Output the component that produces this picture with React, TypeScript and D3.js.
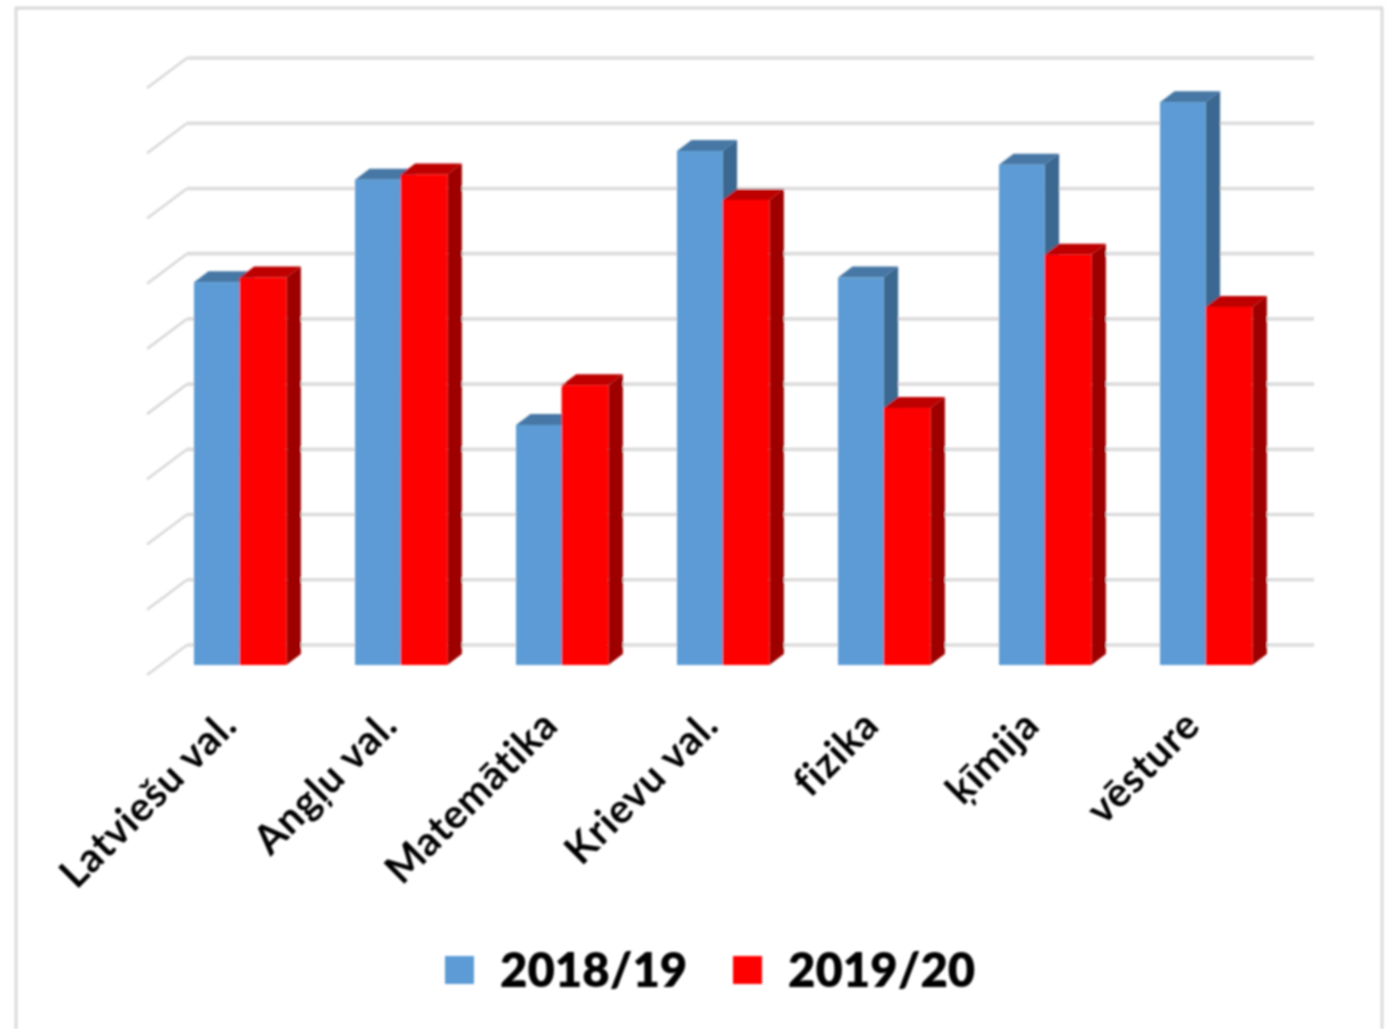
import React from "react";
import * as d3 from "d3";

const categories = ["Latviešu val.", "Angļu val.", "Matemātika", "Krievu val.", "fizika", "ķīmija", "vēsture"];
const values1819 = [58.7, 74.4, 36.8, 78.8, 59.4, 76.7, 86.3];
const values1920 = [59.4, 75.2, 42.9, 71.3, 39.4, 62.9, 54.9];
const gridValues = [0, 10, 20, 30, 40, 50, 60, 70, 80, 90];
const seriesNames = ["2018/19", "2019/20"];

const W = 1394, H = 1029;
const yFront = d3.scaleLinear().domain([0, 90]).range([665, 78]);
const yGrid = d3.scaleLinear().domain([0, 90]).range([645, 58]);
const xGroups = d3.scaleBand<string>().domain(categories).range([194, 194 + 7 * 161]).padding(0).align(0);
const dx = 14.5, dy = 11;

const palette = [
  { front: "#5B9BD5", top: "#4677A4", side: "#3A6790" },
  { front: "#FF0000", top: "#BE0000", side: "#9E0000" },
];

function Bar({ x, w, v, c }: { x: number; w: number; v: number; c: typeof palette[0] }) {
  const t = yFront(v), b = yFront(0), r = x + w;
  return (
    <g>
      <polygon fill={c.side} points={`${r},${t} ${r + dx},${t - dy} ${r + dx},${b - dy} ${r},${b}`} />
      <polygon fill={c.top} points={`${x},${t} ${x + dx},${t - dy} ${r + dx},${t - dy} ${r},${t}`} />
      <rect x={x} y={t} width={w} height={b - t} fill={c.front} />
    </g>
  );
}

export default function App() {
  const bwBlue = 45.6, bwRed = 46.8;
  return (
    <svg width={W} height={H} viewBox={`0 0 ${W} ${H}`} style={{ position: "absolute", left: 0, top: 0, display: "block", background: "#fff" }}>
      <defs>
        <filter id="soft" x="-5%" y="-5%" width="110%" height="110%">
          <feGaussianBlur stdDeviation="0.85" />
        </filter>
      </defs>
      <g filter="url(#soft)">
        <path d="M16,1029 V8 H1382 V1029" fill="none" stroke="#d8d8d8" strokeWidth={2.8} />
        {gridValues.map((g) => (
          <g key={g}>
            <line x1={187} x2={1314} y1={yGrid(g)} y2={yGrid(g)} stroke="#dcdcdc" strokeWidth={3.6} />
            <line x1={147} x2={187} y1={yGrid(g) + 30} y2={yGrid(g)} stroke="#d8d8d8" strokeWidth={2.6} />
          </g>
        ))}
        {categories.map((cat, i) => {
          const x = xGroups(cat)!;
          return (
            <g key={cat}>
              <Bar x={x} w={bwBlue} v={values1819[i]} c={palette[0]} />
              <Bar x={x + bwBlue} w={bwRed} v={values1920[i]} c={palette[1]} />
              <text
                transform={`translate(${x + 22.5 - i * 0.5},${705}) rotate(-45)`}
                textAnchor="end"
                dominantBaseline="hanging"
                fontFamily="Lato, 'Open Sans', sans-serif"
                fontWeight={700}
                fontSize={40.5}
                letterSpacing={0.75}
                fill="#000"
              >
                {cat}
              </text>
            </g>
          );
        })}
        {seriesNames.map((name, i) => {
          const sx = [445, 733][i], tx = [500, 788][i];
          return (
            <g key={name}>
              <rect x={sx} y={956} width={29} height={28} fill={palette[i].front} />
              <text x={tx} y={987} fontFamily="Lato, sans-serif" fontWeight={800} fontSize={47.3} fill="#000">
                {name}
              </text>
            </g>
          );
        })}
      </g>
    </svg>
  );
}
